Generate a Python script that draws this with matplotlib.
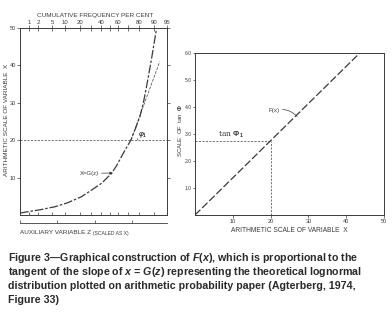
import numpy as np
import matplotlib
matplotlib.use('Agg')
import matplotlib.pyplot as plt
from matplotlib.patches import Arc

plt.rcParams['font.family'] = ['Liberation Sans', 'DejaVu Sans']
plt.rcParams['mathtext.fontset'] = 'custom'
plt.rcParams['mathtext.rm'] = 'Liberation Sans:bold'
plt.rcParams['mathtext.it'] = 'Liberation Sans:italic:bold'
plt.rcParams['mathtext.bf'] = 'Liberation Sans:bold'

INK = '#3a3a3a'

# left panel: lognormal curve x = G(z) (z in normal units)
curve_z = [-2.58, -2.35, -2.0, -1.58, -1.2, -0.81, -0.5, -0.23, 0.05, 0.2,
           0.34, 0.45, 0.61, 0.75, 0.87, 0.97, 1.06, 1.2, 1.35]
curve_x = [0.5, 0.9, 1.4, 2.2, 3.3, 4.9, 6.8, 8.5, 11.1, 13.2,
           15.6, 17.5, 20.0, 23.3, 26.3, 30.0, 34.3, 41.5, 49.9]
tangent_z = [0.61, 1.44]
tangent_x = [20.0, 41.0]
x_level = 20
y_ticks_left = [10, 20, 30, 40, 50]

# probability scale on top (per cent and the matching normal quantiles)
pct_major = [1, 2, 5, 10, 20, 40, 60, 80, 90, 95]
z_major = [-2.326, -2.054, -1.645, -1.282, -0.842, -0.253, 0.253, 0.842, 1.282, 1.645]
pct_minor = [30, 50, 70]
z_minor = [-0.524, 0.0, 0.524]
aux_ticks = [0, 10, 20, 30]

# right panel: F(x)
fx_x = [0, 43.6]
fx_y = [0, 6.0]
tan_phi1 = 2.75
x_ticks_right = [10, 20, 30, 40, 50]
y_ticks_right = [1.0, 2.0, 3.0, 4.0, 5.0, 6.0]

caption = [
    r'Figure 3—Graphical construction of $F(x)$, which is proportional to the',
    r'tangent of the slope of $x$ = $G(z)$ representing the theoretical lognormal',
    r'distribution plotted on arithmetic probability paper (Agterberg, 1974,',
    r'Figure 33)',
]

W, H = 392, 323
fig = plt.figure(figsize=(W / 100, H / 100), dpi=100)


def style(ax):
    for s in ax.spines.values():
        s.set_linewidth(0.7)
        s.set_color(INK)
    ax.tick_params(colors=INK, labelsize=4.0, width=0.5, length=2.2, pad=0.8)


# ---------------- left panel
axL = fig.add_axes([20 / W, 1 - 215 / H, 147 / W, 187 / H])
style(axL)
axL.set_xlim(-2.58, 1.65)
axL.set_ylim(0, 50)
axL.plot(curve_z, curve_x, color=INK, lw=0.9, dashes=(7, 1.5, 2, 1.5))
axL.plot(tangent_z, tangent_x, color=INK, lw=0.5, dashes=(4, 2))
axL.axhline(x_level, color=INK, lw=0.5, dashes=(3, 2))
axL.set_yticks(y_ticks_left)
axL.tick_params(axis='y', right=True, direction='out')
axL.set_xticks(z_major + z_minor)
axL.tick_params(axis='x', direction='in', labelbottom=False, length=2.5)

top = axL.secondary_xaxis('top')
top.set_xticks(z_major)
top.set_xticklabels([str(p) for p in pct_major])
top.set_xticks(z_minor, minor=True)
top.tick_params(which='both', direction='inout', length=4, width=0.5,
                labelsize=4.3, colors=INK, pad=0.5)
top.spines['top'].set_visible(False)
fig.text(95 / W, 1 - 15 / H, 'CUMULATIVE FREQUENCY PER CENT',
         ha='center', va='center', fontsize=4.6, color=INK)

# angle phi1 at the intersection
phi_z = curve_z[curve_x.index(20.0)]
axL.add_patch(Arc((phi_z, x_level), 2 * 7 / 34.75, 2 * 7 / 3.74,
                  theta1=0, theta2=68, color=INK, lw=0.5))
axL.text(phi_z + 0.2, x_level + 1.5, r'$\varphi_1$', fontsize=5, color=INK,
         ha='left', va='center')
axL.annotate('X=G(z)', xy=(0.09, 11.2), xytext=(-0.86, 11.2),
             fontsize=4.3, color=INK, va='center', ha='left',
             arrowprops=dict(arrowstyle='-|>', color=INK, lw=0.5,
                             mutation_scale=4, shrinkA=0, shrinkB=0))
fig.text(7 / W, 1 - 120 / H, 'ARITHMETIC SCALE OF VARIABLE  X', rotation=90,
         ha='center', va='center', fontsize=4.6, color=INK)

# auxiliary axis below the box
axA = fig.add_axes([20 / W, 1 - 223 / H, 147 / W, 0.001])
axA.set_xlim(0, 147 / 3.74)
axA.set_yticks([])
for k in ['top', 'left', 'right']:
    axA.spines[k].set_visible(False)
axA.spines['bottom'].set_linewidth(0.6)
axA.spines['bottom'].set_color(INK)
axA.set_xticks(aux_ticks)
axA.tick_params(axis='x', direction='in', length=2.5, width=0.5,
                labelbottom=False, colors=INK)
fig.text(93 / W, 1 - 233 / H, 'AUXILIARY VARIABLE Z ', ha='right', va='center',
         fontsize=4.6, color=INK)
fig.text(93 / W, 1 - 233 / H, '(SCALED AS X)', ha='left', va='center',
         fontsize=3.6, color=INK)

# ---------------- right panel
axR = fig.add_axes([195 / W, 1 - 215 / H, 189 / W, 162 / H])
style(axR)
axR.tick_params(axis='y', labelsize=3.6, length=1.6, pad=0.5)
axR.set_xlim(0, 50)
axR.set_ylim(0, 6)
axR.plot(fx_x, fx_y, color=INK, lw=0.9, dashes=(6, 2))
axR.plot([0, x_level], [tan_phi1, tan_phi1], color=INK, lw=0.5, dashes=(3, 2))
axR.plot([x_level, x_level], [0, tan_phi1], color=INK, lw=0.5, dashes=(3, 2))
axR.set_xticks(x_ticks_right)
axR.set_yticks(y_ticks_right)
axR.set_yticklabels(['%.1f' % v for v in y_ticks_right])
axR.text(6.0, 2.98, r'tan $\Phi_1$', fontsize=5.5, color=INK, ha='left',
         va='center', family='DejaVu Serif')
axR.annotate('F(x)', xy=(27.0, 3.65), xytext=(19.5, 3.87),
             fontsize=4.5, color=INK, va='center', ha='left',
             arrowprops=dict(arrowstyle='-', color=INK, lw=0.5,
                             connectionstyle='arc3,rad=-0.3',
                             shrinkA=0, shrinkB=0))
axR.set_xlabel('ARITHMETIC SCALE OF VARIABLE  X', fontsize=4.8, color=INK,
               labelpad=2)
fig.text(180.5 / W, 1 - 131 / H, r'SCALE  OF  tan  $\Phi$', rotation=90,
         ha='center', va='center', fontsize=4.3, color=INK)

# ---------------- caption
for i, line in enumerate(caption):
    fig.text(8 / W, 1 - (258 + 14 * i) / H, line, ha='left', va='center',
             fontsize=7.7, fontweight='bold', color='#2a2a2a')

fig.savefig('out.png', dpi=100)
